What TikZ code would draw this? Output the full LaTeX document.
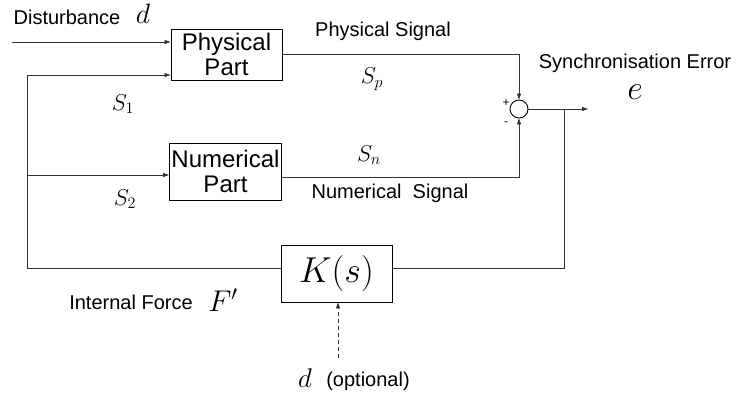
\RequirePackage{fix-cm}
\documentclass[tikz,border=0pt]{standalone}
\usepackage{fontspec}
\setmainfont{Liberation Sans}
\usepackage{tikz}
\usetikzlibrary{arrows.meta,calc,positioning}
\tikzset{
  block/.style     = {draw, line width=0.9pt, minimum width=111pt, align=center, inner sep=2pt, font=\fontsize{24}{25}\selectfont},
  sumnode/.style   = {draw, circle, line width=0.9pt, minimum size=18pt, inner sep=0pt},
  wire/.style      = {line width=0.8pt, draw=black!80},
  line/.style      = {wire, ->, >={Triangle[length=6pt,width=4pt]}},
  dashedline/.style= {line, dash pattern=on 4pt off 3pt},
  lbl/.style       = {font=\fontsize{20}{22}\selectfont, inner sep=0pt},
  mlbl/.style      = {font=\fontsize{23}{25}\selectfont, inner sep=0pt},
}

\begin{document}
\begin{tikzpicture}[x=1pt, y=-1pt]
    \useasboundingbox (0,0) rectangle (737,403);

    % Plant blocks and controller
    \node[block, minimum height=51pt] (phys) at (226.5,54.5) {Physical\\Part};
    \node[block, minimum height=57pt] (num) at (225.5,171.5) {Numerical\\Part};
    \node[block, minimum height=57pt, font=\fontsize{36}{38}\selectfont] (ctrl) at (336.5,273.5) {$K(s)$};
    \node[sumnode] (sum) at (519,109) {};

    % Free ends and branch points
    \coordinate (din) at (12,42);
    \coordinate (split) at (27,268);
    \coordinate (tap) at (564,109);
    \coordinate (eout) at (588,109);
    \coordinate (dopt) at (338,358);

    % Inputs to the two parts
    \draw[line] (din) -- (din -| phys.west);
    \draw[line] (split |- 0,75) -- (phys.west |- 0,75);
    \draw[line] (split |- 0,175) -- (num.west |- 0,175);
    \draw[wire] (split |- 0,75) -- (split) -- (ctrl.west |- split);

    % Signals to the comparator
    \draw[line] (phys.east |- 0,54) -| (sum.north);
    \draw[line] (num.east |- 0,177) -| (sum.south);
    \draw[line] (sum.east) -- (eout);

    % Feedback through K(s)
    \draw[wire] (tap) -- (tap |- split) -- (ctrl.east |- split);
    \draw[dashedline] (dopt) -- (ctrl.south -| dopt);

    % Labels
    \node[lbl] (distlbl) at (67,17) {Disturbance};
    \node[font=\fontsize{28}{30}\selectfont, inner sep=0pt] (dist) at (143,14) {$d$};
    \node[mlbl] (s1) at (123,104) {$S_1$};
    \node[mlbl] (s2) at (125,199) {$S_2$};
    \node[lbl] (physlbl) at (383,31) {Physical Signal};
    \node[mlbl] (sp) at (372,79) {$S_p$};
    \node[mlbl] (sn) at (369,155) {$S_n$};
    \node[lbl] (numlbl) at (390,193) {Numerical\ \ Signal};
    \node[font=\fontsize{12}{13}\selectfont, inner sep=0pt] (plus) at (506,103) {+};
    \node[font=\fontsize{12}{13}\selectfont, inner sep=0pt] (minus) at (506,124) {-};
    \node[lbl] (synclbl) at (635,63) {Synchronisation Error};
    \node[font=\fontsize{34}{36}\selectfont, inner sep=0pt] (err) at (635,92) {$e$};
    \node[lbl] (forcelbl) at (131,302) {Internal Force};
    \node[font=\fontsize{30}{32}\selectfont, inner sep=0pt] (force) at (223,300) {$F'$};
    \node[font=\fontsize{27}{29}\selectfont, inner sep=0pt] (dbot) at (305,378) {$d$};
    \node[lbl] (optlbl) at (368,381) {(optional)};
\end{tikzpicture}
\end{document}
